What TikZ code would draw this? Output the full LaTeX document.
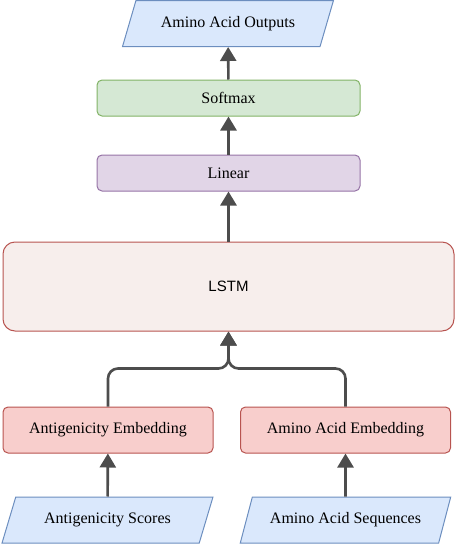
\documentclass[tikz,border=0pt]{standalone}
\usepackage{fontspec}
\setmainfont{Liberation Serif}
\setsansfont{Liberation Sans}
\usepackage{tikz}
\usetikzlibrary{arrows.meta, calc, shapes.geometric, positioning}
\usepackage{xcolor}
\definecolor{ioFill}{HTML}{DAE8FC}
\definecolor{ioLine}{HTML}{6C8EBF}
\definecolor{smFill}{HTML}{D5E8D4}
\definecolor{smLine}{HTML}{82B366}
\definecolor{linFill}{HTML}{E1D5E7}
\definecolor{linLine}{HTML}{9673A6}
\definecolor{lstmFill}{HTML}{F7EEEC}
\definecolor{embFill}{HTML}{F8CECC}
\definecolor{embLine}{HTML}{B85450}
\definecolor{wire}{HTML}{4D4D4D}
\tikzset{
  iobox/.style   ={draw=ioLine, fill=ioFill, trapezium, trapezium left angle=56, trapezium right angle=124,
                   trapezium stretches=true, minimum width=211pt, minimum height=46pt, inner sep=0pt,
                   line width=1pt, font=\fontsize{16}{18}\selectfont},
  layerbox/.style={draw, rectangle, rounded corners=5pt, minimum width=263pt, minimum height=36pt,
                   inner sep=0pt, line width=1pt, font=\fontsize{16}{18}\selectfont},
  embbox/.style  ={layerbox, draw=embLine, fill=embFill, minimum width=210pt, minimum height=46pt},
  lstmbox/.style ={draw=embLine, fill=lstmFill, rectangle, rounded corners=12pt, minimum width=451pt,
                   minimum height=89pt, inner sep=0pt, line width=1pt, font=\sffamily\fontsize{15}{17}\selectfont},
  flow/.style    ={-{Triangle[width=16pt, length=14pt]}, line width=2.6pt, wire},
}

\begin{document}
\begin{tikzpicture}[x=1pt, y=1pt]
  \useasboundingbox (0,0) rectangle (456,-544);

  % top: outputs
  \node[iobox] (out) at (228,-23.5) {Amino Acid Outputs};
  \node[layerbox, draw=smLine, fill=smFill]   (soft) at (228.5,-98)  {Softmax};
  \node[layerbox, draw=linLine, fill=linFill] (lin)  at (228.5,-173) {Linear};
  \node[lstmbox] (lstm) at (228.5,-286.5) {LSTM};
  \draw[flow] (soft) -- (out);
  \draw[flow] (lin) -- (soft);
  \draw[flow] (lstm) -- (lin);

  % bottom: two input branches
  \node[embbox] (agemb) at (108,-430)   {Antigenicity Embedding};
  \node[embbox] (aaemb) at (345.5,-430) {Amino Acid Embedding};
  \node[iobox]  (agin)  at (107.5,-520) {Antigenicity Scores};
  \node[iobox]  (aain)  at (345.5,-520) {Amino Acid Sequences};
  \draw[flow] (agin) -- (agemb);
  \draw[flow] (aain) -- (aaemb);

  % merge into LSTM
  \coordinate (join) at ($(lstm.south)+(0,-37)$);
  \draw[flow, rounded corners=10pt] (agemb.north) |- (join) -- (lstm.south);
  \draw[flow, rounded corners=10pt] (aaemb.north) |- (join) -- (lstm.south);
\end{tikzpicture}
\end{document}
